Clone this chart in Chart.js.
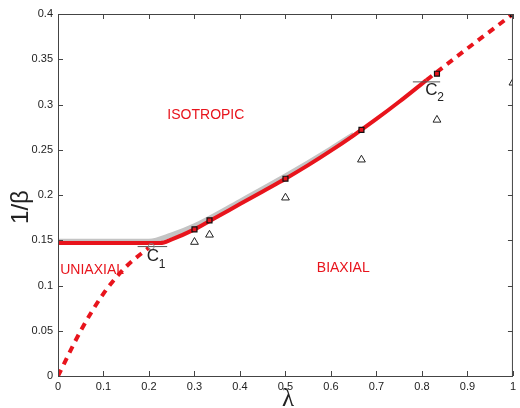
<!DOCTYPE html>
<html>
<head>
<meta charset="utf-8">
<script src="https://cdn.jsdelivr.net/npm/chart.js@4"></script>
<style>
  html, body { margin: 0; padding: 0; background: #fff; }
  #wrap { width: 520px; height: 408px; }
</style>
</head>
<body>
<div id="wrap"><canvas id="c" width="520" height="408"></canvas></div>
<script>
// tick values
const xTicks = [0, 0.1, 0.2, 0.3, 0.4, 0.5, 0.6, 0.7, 0.8, 0.9, 1];
const yTicks = [0, 0.05, 0.1, 0.15, 0.2, 0.25, 0.3, 0.35, 0.4];

// phase boundary (solid red) and the grey reference curve
const redX  = [0, 0.225, 0.25, 0.3, 0.35, 0.4, 0.45, 0.5, 0.55, 0.6, 0.65, 0.7, 0.75, 0.81];
const redY  = [0.147, 0.147, 0.151, 0.162, 0.176, 0.19, 0.204, 0.218, 0.233, 0.249, 0.266, 0.284, 0.303, 0.327];
const greyX = [0, 0.2, 0.25, 0.3, 0.4, 0.5, 0.6, 0.65];
const greyY = [0.149, 0.149, 0.156, 0.166, 0.193, 0.221, 0.251, 0.267];

// dashed continuations
const lowDashX = [0, 0.05, 0.1, 0.15, 0.2];
const lowDashY = [0, 0.05, 0.091, 0.121, 0.142];
const upDashX  = [0.81, 0.9, 1];
const upDashY  = [0.327, 0.362, 0.4];

// simulation points
const sqX  = [0.3, 0.333, 0.5, 0.667, 0.833, 1];
const sqY  = [0.162, 0.172, 0.218, 0.272, 0.334, 0.4];
const triX = [0.3, 0.333, 0.5, 0.667, 0.833, 1];
const triY = [0.148, 0.156, 0.197, 0.239, 0.283, 0.324];

// critical points
const c1 = [0.205, 0.143];
const c2 = [0.81, 0.325];

const pts = (xs, ys) => xs.map((x, i) => ({ x: x, y: ys[i] }));
const RED = '#e8141c';

const overlay = {
  id: 'overlay',
  afterDraw(chart) {
    const ctx = chart.ctx;
    const xs = chart.scales.x, ys = chart.scales.y;
    const a = chart.chartArea;
    ctx.save();
    // box
    ctx.strokeStyle = '#444';
    ctx.lineWidth = 1;
    ctx.strokeRect(a.left + 0.5, a.top + 0.5, a.right - a.left - 1, a.bottom - a.top);
    // inward ticks on all four sides
    ctx.beginPath();
    xTicks.forEach(v => {
      const p = Math.round(xs.getPixelForValue(v)) + 0.5;
      ctx.moveTo(p, a.bottom); ctx.lineTo(p, a.bottom - 5);
      ctx.moveTo(p, a.top); ctx.lineTo(p, a.top + 5);
    });
    yTicks.forEach(v => {
      const p = Math.round(ys.getPixelForValue(v)) + 0.5;
      ctx.moveTo(a.left, p); ctx.lineTo(a.left + 5, p);
      ctx.moveTo(a.right, p); ctx.lineTo(a.right - 5, p);
    });
    ctx.stroke();

    // region labels
    ctx.fillStyle = RED;
    ctx.font = '14px "Liberation Sans", Arial, sans-serif';
    ctx.textAlign = 'center';
    ctx.textBaseline = 'middle';
    ctx.fillText('ISOTROPIC', xs.getPixelForValue(0.325), ys.getPixelForValue(0.288));
    ctx.fillText('UNIAXIAL', xs.getPixelForValue(0.075), ys.getPixelForValue(0.117));
    ctx.fillText('BIAXIAL', xs.getPixelForValue(0.627), ys.getPixelForValue(0.119));

    // C1 / C2 labels
    ctx.fillStyle = '#222';
    const lab = (t, sub, px, py) => {
      ctx.font = '17px "Liberation Sans", Arial, sans-serif';
      ctx.textAlign = 'left';
      ctx.fillText(t, px, py);
      ctx.font = '12px "Liberation Sans", Arial, sans-serif';
      ctx.fillText(sub, px + 12, py + 8);
    };
    lab('C', '1', xs.getPixelForValue(0.195), ys.getPixelForValue(0.132));
    lab('C', '2', xs.getPixelForValue(0.807), ys.getPixelForValue(0.316));

    // axis titles
    ctx.font = '24px "Liberation Sans", Arial, sans-serif';
    ctx.textAlign = 'center';
    ctx.save();
    ctx.translate(21, 207);
    ctx.rotate(-Math.PI / 2);
    ctx.fillText('1/β', 0, 0);
    ctx.restore();
    ctx.font = '25px "Liberation Serif", "DejaVu Serif", serif';
    ctx.textBaseline = 'alphabetic';
    ctx.fillText('λ', 288, 406);
    ctx.restore();
  }
};

// first dataset is drawn on top
new Chart(document.getElementById('c'), {
  type: 'scatter',
  data: {
    datasets: [
      { data: pts(sqX, sqY), pointStyle: 'rect', pointRadius: 3.5,
        backgroundColor: RED, borderColor: '#111', borderWidth: 1.2, showLine: false },
      { data: [{ x: c1[0], y: c1[1] }], pointStyle: 'circle', pointRadius: 3,
        backgroundColor: 'rgba(0,0,0,0)', borderColor: '#888', borderWidth: 1 },
      { data: [{ x: c1[0] - 0.03, y: c1[1] }, { x: c1[0] + 0.035, y: c1[1] }], showLine: true,
        borderColor: '#555', borderWidth: 1, pointRadius: 0 },
      { data: [{ x: c2[0] - 0.03, y: c2[1] }, { x: c2[0] + 0.03, y: c2[1] }], showLine: true,
        borderColor: '#555', borderWidth: 1, pointRadius: 0 },
      { data: pts(upDashX, upDashY), showLine: true, borderColor: RED, borderWidth: 4,
        borderDash: [7, 6], pointRadius: 0 },
      { data: pts(lowDashX, lowDashY), showLine: true, borderColor: RED, borderWidth: 4,
        borderDash: [7, 6], pointRadius: 0, cubicInterpolationMode: 'monotone' },
      { data: pts(redX, redY), showLine: true, borderColor: RED, borderWidth: 4,
        pointRadius: 0, cubicInterpolationMode: 'monotone' },
      { data: pts(greyX, greyY), showLine: true, borderColor: '#c4c4c4', borderWidth: 5,
        pointRadius: 0, cubicInterpolationMode: 'monotone' },
      { data: pts(triX, triY), pointStyle: 'triangle', pointRadius: 4.5,
        backgroundColor: 'rgba(0,0,0,0)', borderColor: '#222', borderWidth: 1, showLine: false }
    ]
  },
  options: {
    responsive: false,
    animation: false,
    layout: { padding: { top: 14, right: 1, left: 0, bottom: 0 } },
    plugins: { legend: { display: false }, tooltip: { enabled: false } },
    scales: {
      x: {
        type: 'linear', min: 0, max: 1,
        afterFit(s) { s.height = 32; },
        afterBuildTicks(s) { s.ticks = xTicks.map(v => ({ value: v })); },
        grid: { display: false, drawTicks: false },
        border: { display: false },
        ticks: { color: '#222', padding: 4, maxRotation: 0,
          font: { family: '"Liberation Sans", Arial, sans-serif', size: 11 },
          callback: v => String(v) }
      },
      y: {
        type: 'linear', min: 0, max: 0.4,
        afterFit(s) { s.width = 58; },
        afterBuildTicks(s) { s.ticks = yTicks.map(v => ({ value: v })); },
        grid: { display: false, drawTicks: false },
        border: { display: false },
        ticks: { color: '#222', padding: 5,
          font: { family: '"Liberation Sans", Arial, sans-serif', size: 11 },
          callback: v => String(v) }
      }
    }
  },
  plugins: [overlay]
});
</script>
</body>
</html>
